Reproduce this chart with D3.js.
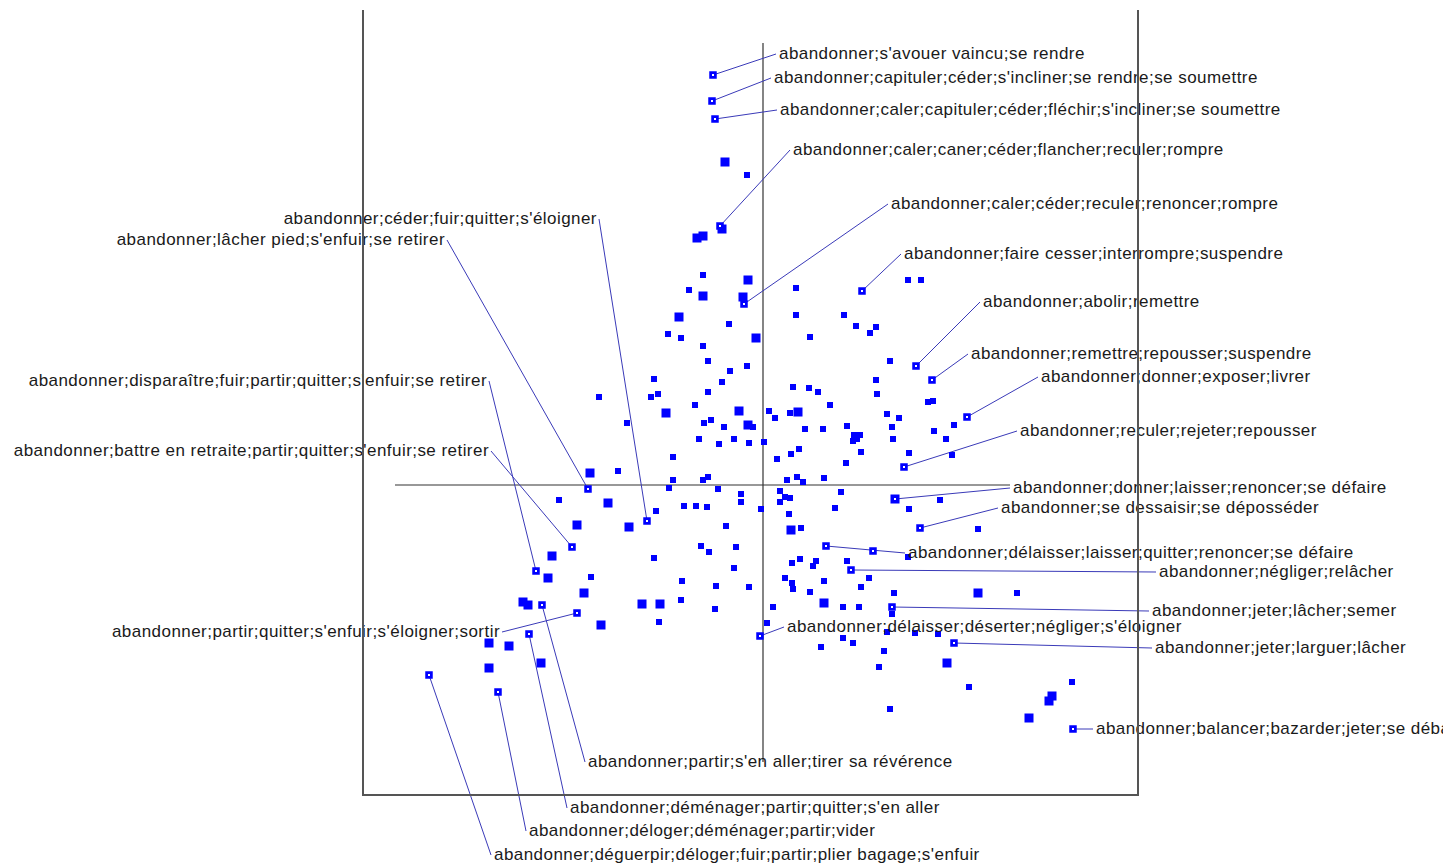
<!DOCTYPE html>
<html>
<head>
<meta charset="utf-8">
<script src="https://cdn.jsdelivr.net/npm/d3@7"></script>
<style>
  body { margin: 0; background: #fff; }
  svg { display: block; }
  .lbl { font-family: "Liberation Sans", Arial, sans-serif; font-size: 17px; letter-spacing: 0.45px; fill: #1a1a1a; }
</style>
</head>
<body>
<svg id="chart"></svg>
<script>
// factor map coordinates of the unlabeled synonyms (axis 1, axis 2) and their weight class
const ptX = [-0.38,-0.16,-0.41,-0.66,-0.60,-0.60,-0.15,1.45,1.58,-0.74,0.33,-0.60,-0.20,-0.84,0.33,0.81,-0.34,0.93,1.13,1.07,
  -0.95,-0.82,0.47,-0.07,-0.60,-0.55,-0.16,-0.33,1.27,-1.09,-0.41,1.13,0.30,0.46,0.55,-0.55,-1.05,-1.12,1.14,-1.64,
  0.67,-0.68,1.65,1.70,-0.97,-0.24,0.35,0.06,0.12,0.27,1.24,1.36,-1.36,-0.59,-0.52,-0.39,-0.15,-0.10,0.42,0.60,
  0.84,0.91,0.97,0.90,0.94,1.29,1.91,1.71,1.83,1.30,-0.64,-0.44,-0.29,-0.14,0.01,-0.90,0.14,0.28,0.36,0.83,
  0.98,1.46,1.89,-1.73,-1.45,-0.90,-0.60,-0.55,0.34,0.24,0.40,0.61,-0.94,-0.45,-0.22,0.17,0.78,0.22,0.27,-0.22,
  0.17,-2.04,-1.55,-0.79,-0.67,-0.56,-0.02,-1.07,-1.86,-1.34,-0.37,-0.62,-0.54,-0.27,-2.11,-1.09,-0.29,-2.15,-1.72,-0.81,
  -0.47,-0.14,-1.79,-2.40,-2.35,-1.21,-1.03,-0.82,-0.48,0.10,-1.62,-1.04,0.04,-2.74,-2.54,-2.22,-2.74,1.77,1.46,0.72,
  0.26,2.15,0.28,0.38,1.45,0.29,0.37,0.50,0.53,0.84,0.22,0.29,0.30,0.61,1.06,0.98,1.31,2.15,2.54,0.47,
  0.61,0.80,0.96,1.29,1.24,1.52,1.75,0.80,0.90,0.58,1.21,1.84,1.16,2.06,3.09,2.89,2.86,1.27,2.66];
const ptY = [3.23,3.10,2.56,2.47,2.49,2.10,2.05,2.05,2.05,1.95,1.97,1.89,1.88,1.68,1.70,1.70,1.61,1.59,1.58,1.52,
  1.51,1.47,1.48,1.47,1.39,1.24,1.19,1.14,1.24,1.06,1.03,1.05,0.98,0.97,0.93,0.93,0.91,0.88,0.91,0.88,
  0.80,0.80,0.83,0.84,0.72,0.74,0.73,0.74,0.67,0.72,0.71,0.67,0.62,0.62,0.65,0.58,0.60,0.58,0.56,0.56,
  0.59,0.50,0.50,0.44,0.46,0.58,0.60,0.54,0.46,0.46,0.46,0.41,0.46,0.42,0.43,0.28,0.26,0.31,0.36,0.22,
  0.33,0.32,0.30,0.12,0.14,0.05,0.05,0.08,0.08,0.05,0.03,0.07,-0.03,-0.04,-0.09,-0.06,-0.07,-0.12,-0.13,-0.17,
  -0.17,-0.15,-0.18,-0.21,-0.21,-0.22,-0.24,-0.26,-0.40,-0.42,-0.41,-0.61,-0.67,-0.62,-0.71,-0.73,-0.83,-0.93,-0.92,-0.96,
  -1.01,-1.02,-1.08,-1.17,-1.20,-1.19,-1.19,-1.15,-1.24,-1.22,-1.40,-1.37,-1.38,-1.58,-1.61,-1.78,-1.83,-0.15,-0.24,-0.23,
  -0.29,-0.44,-0.45,-0.43,-0.72,-0.78,-0.74,-0.81,-0.76,-0.76,-0.93,-0.98,-1.04,-0.96,-0.93,-1.02,-1.08,-1.08,-1.08,-1.07,
  -1.18,-1.22,-1.22,-1.29,-1.47,-1.48,-1.49,-1.53,-1.58,-1.62,-1.66,-1.78,-1.82,-2.02,-1.97,-2.11,-2.16,-2.24,-2.33];
const ptWeight = [2,1,2,2,2,1,2,1,1,1,1,2,2,2,1,1,1,1,1,1,
  1,1,1,2,1,1,1,1,1,1,1,1,1,1,1,1,1,1,1,1,
  1,1,1,1,2,2,2,1,1,1,1,1,1,1,1,1,2,1,1,1,
  1,1,1,1,1,1,1,1,1,1,1,1,1,1,1,1,1,1,1,1,
  1,1,1,2,1,1,1,1,1,1,1,1,1,1,1,1,1,1,1,1,
  1,1,2,1,1,1,1,1,2,2,1,1,1,1,2,1,1,2,1,1,
  1,1,2,2,2,2,2,1,1,1,2,1,1,2,2,2,2,1,1,1,
  1,1,2,1,1,1,1,1,1,1,1,1,1,1,1,1,1,2,1,1,
  2,1,1,1,1,1,1,1,1,1,1,2,1,1,1,2,2,1,2];

// labeled synonym sets
const lblX = [-0.50,-0.51,-0.48,-0.43,-0.19,0.99,1.53,1.69,2.04,1.41,1.32,1.57,0.63,0.88,1.29,-0.03,1.91,3.10,
  -2.21,-2.34,-2.65,-3.34,-1.16,-1.75,-2.27,-1.91,-1.86];
const lblY = [4.10,3.84,3.66,2.59,1.81,1.94,1.19,1.05,0.68,0.18,-0.14,-0.43,-0.61,-0.85,-1.22,-1.51,-1.58,-2.44,
  -1.20,-1.49,-2.07,-1.90,-0.36,-0.04,-0.86,-0.62,-1.28];
const lblWeight = [1,1,1,1,1,1,1,1,1,1,2,1,1,1,1,1,1,1,1,1,1,1,1,1,1,1,1];
const lblText = [
  "abandonner;s'avouer vaincu;se rendre",
  "abandonner;capituler;céder;s'incliner;se rendre;se soumettre",
  "abandonner;caler;capituler;céder;fléchir;s'incliner;se soumettre",
  "abandonner;caler;caner;céder;flancher;reculer;rompre",
  "abandonner;caler;céder;reculer;renoncer;rompre",
  "abandonner;faire cesser;interrompre;suspendre",
  "abandonner;abolir;remettre",
  "abandonner;remettre;repousser;suspendre",
  "abandonner;donner;exposer;livrer",
  "abandonner;reculer;rejeter;repousser",
  "abandonner;donner;laisser;renoncer;se défaire",
  "abandonner;se dessaisir;se déposséder",
  "abandonner;délaisser;laisser;quitter;renoncer;se défaire",
  "abandonner;négliger;relâcher",
  "abandonner;jeter;lâcher;semer",
  "abandonner;délaisser;déserter;négliger;s'éloigner",
  "abandonner;jeter;larguer;lâcher",
  "abandonner;balancer;bazarder;jeter;se débarrasser",
  "abandonner;partir;s'en aller;tirer sa révérence",
  "abandonner;déménager;partir;quitter;s'en aller",
  "abandonner;déloger;déménager;partir;vider",
  "abandonner;déguerpir;déloger;fuir;partir;plier bagage;s'enfuir",
  "abandonner;céder;fuir;quitter;s'éloigner",
  "abandonner;lâcher pied;s'enfuir;se retirer",
  "abandonner;disparaître;fuir;partir;quitter;s'enfuir;se retirer",
  "abandonner;battre en retraite;partir;quitter;s'enfuir;se retirer",
  "abandonner;partir;quitter;s'enfuir;s'éloigner;sortir"
];
// extra open marker sitting on a leader line
const extraX = [1.10], extraY = [-0.66];

// label placement (end of leader line, in map units) and side of the text
const anchorX = [0.13,0.08,0.14,0.27,1.25,1.38,2.17,2.05,2.75,2.54,2.47,2.35,1.42,3.93,3.86,0.21,3.89,3.30,
  -1.78,-1.96,-2.37,-2.72,-1.64,-3.16,-2.74,-2.72,-2.61];
const anchorY = [4.31,4.07,3.75,3.35,2.81,2.31,1.83,1.31,1.08,0.54,-0.03,-0.23,-0.68,-0.87,-1.26,-1.42,-1.63,-2.44,
  -2.77,-3.23,-3.46,-3.70,2.66,2.45,1.04,0.34,-1.47];
const anchorSide = ["r","r","r","r","r","r","r","r","r","r","r","r","r","r","r","r","r","r",
  "r","r","r","r","l","l","l","l","l"];

const width = 1443, height = 867;

const svg = d3.select("#chart")
    .attr("width", width)
    .attr("height", height);

const x = d3.scaleLinear().domain([-4, 3.75]).range([363, 1138]);
const y = d3.scaleLinear().domain([-3.1, 4.75]).range([795, 10]);
const side = d3.scaleOrdinal().domain([1, 2]).range([6, 9]);

const points = ptX.map((d, i) => ({ x: d, y: ptY[i], w: ptWeight[i] }));
const labeled = lblX.map((d, i) => ({
  x: d, y: lblY[i], w: lblWeight[i], text: lblText[i],
  ax: anchorX[i], ay: anchorY[i], side: anchorSide[i]
}));

// central cross of the two factor axes
svg.append("line")
    .attr("x1", x(-3.68)).attr("x2", x(2.47))
    .attr("y1", y(0)).attr("y2", y(0))
    .attr("stroke", "#333").attr("stroke-width", 1.2);
svg.append("line")
    .attr("x1", x(0)).attr("x2", x(0))
    .attr("y1", y(4.42)).attr("y2", y(-2.77))
    .attr("stroke", "#333").attr("stroke-width", 1.2);

// leader lines
svg.selectAll(".leader")
    .data(labeled)
  .enter().append("line")
    .attr("class", "leader")
    .attr("x1", d => x(d.x)).attr("y1", d => y(d.y))
    .attr("x2", d => x(d.ax)).attr("y2", d => y(d.ay))
    .attr("stroke", "#3a3ab8").attr("stroke-width", 1);

// plain points
svg.selectAll(".pt")
    .data(points)
  .enter().append("rect")
    .attr("class", "pt")
    .attr("x", d => x(d.x) - side(d.w) / 2)
    .attr("y", d => y(d.y) - side(d.w) / 2)
    .attr("width", d => side(d.w))
    .attr("height", d => side(d.w))
    .attr("fill", "#0000ff");

// labeled points: squares with a small white centre
const open = labeled.map(d => ({ x: d.x, y: d.y, w: d.w }))
    .concat(extraX.map((d, i) => ({ x: d, y: extraY[i], w: 1 })));
const openSide = d => d.w === 2 ? 9 : 7.5;

svg.selectAll(".opt")
    .data(open)
  .enter().append("rect")
    .attr("class", "opt")
    .attr("x", d => x(d.x) - openSide(d) / 2)
    .attr("y", d => y(d.y) - openSide(d) / 2)
    .attr("width", openSide)
    .attr("height", openSide)
    .attr("fill", "#0000ff");
svg.selectAll(".ohole")
    .data(open)
  .enter().append("rect")
    .attr("class", "ohole")
    .attr("x", d => x(d.x) - 1)
    .attr("y", d => y(d.y) - 1)
    .attr("width", 2)
    .attr("height", 2)
    .attr("fill", "#fff");

// labels
svg.selectAll(".lbl")
    .data(labeled)
  .enter().append("text")
    .attr("class", "lbl")
    .attr("x", d => d.side === "r" ? x(d.ax) + 3 : x(d.ax) - 2)
    .attr("y", d => y(d.ay) - 1)
    .attr("dominant-baseline", "central")
    .attr("text-anchor", d => d.side === "r" ? "start" : "end")
    .text(d => d.text);

// open frame (no top edge)
svg.append("path")
    .attr("d", `M${x(-4)},${y(4.75)}V${y(-3.1)}H${x(3.75)}V${y(4.75)}`)
    .attr("fill", "none")
    .attr("stroke", "#555")
    .attr("stroke-width", 2);
</script>
</body>
</html>
